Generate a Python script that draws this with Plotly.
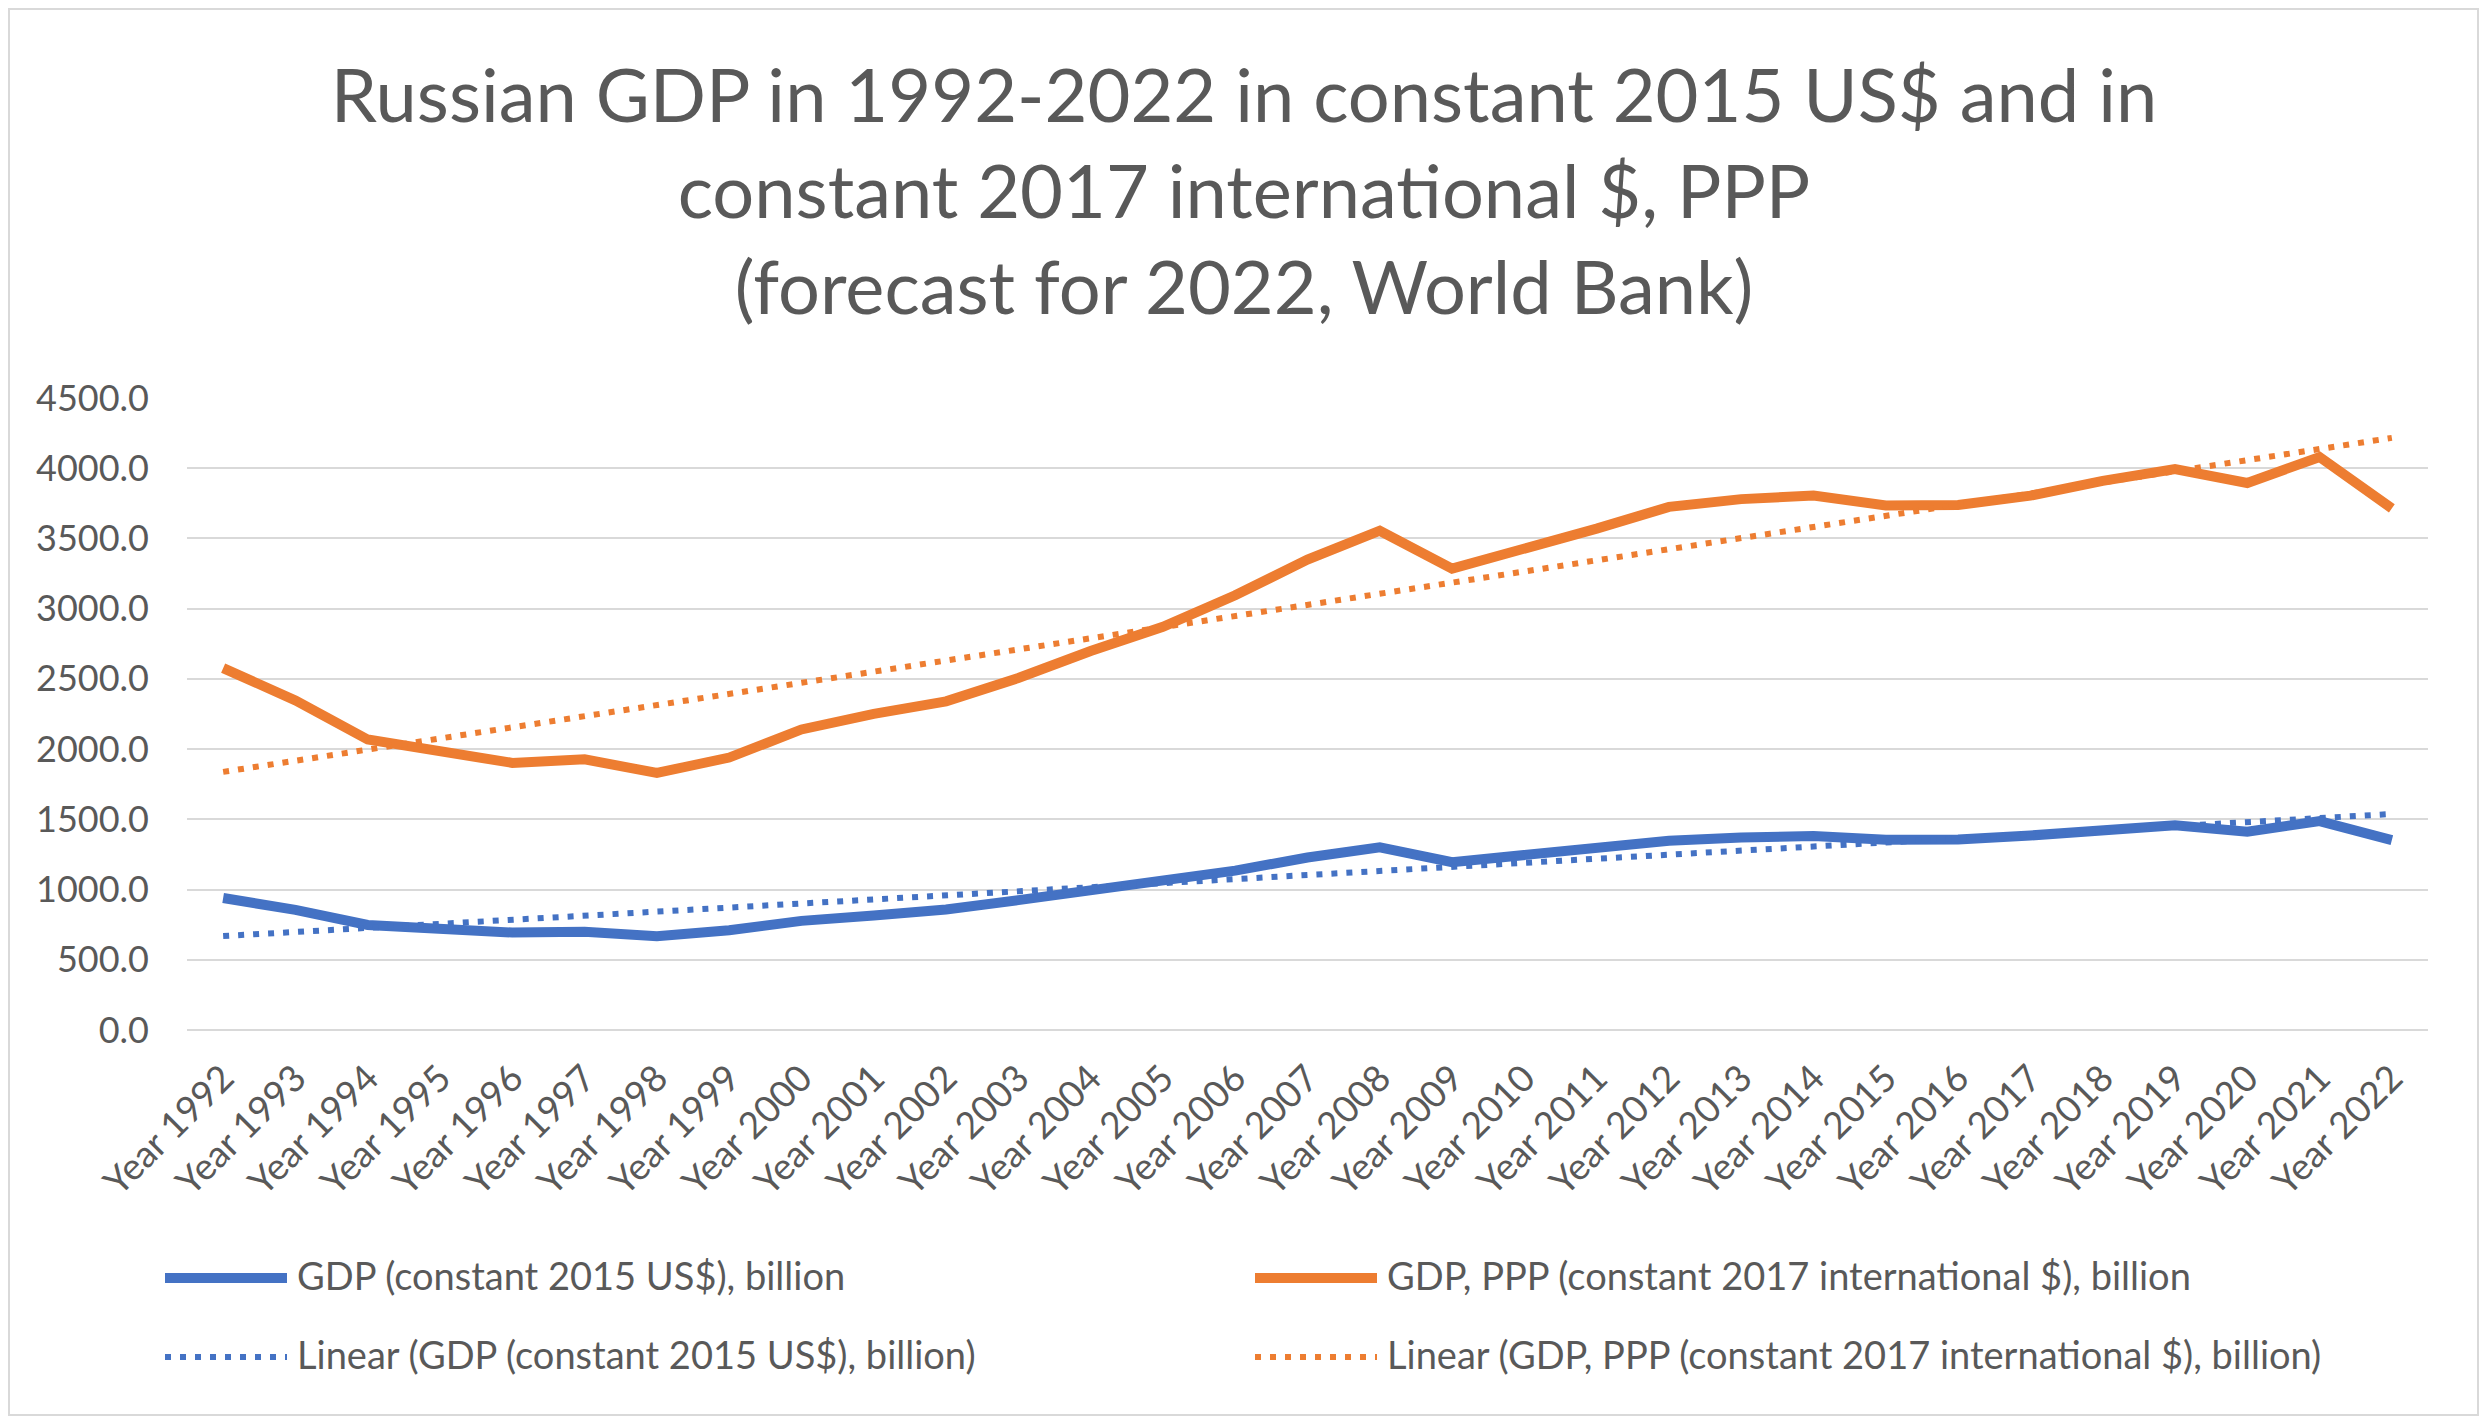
import plotly.graph_objects as go

# data (billion)
years = [f"Year {y}" for y in range(1992, 2023)]
gdp_usd = [940, 855, 748, 722, 694, 700, 667, 710, 777, 816, 858, 925, 990, 1055,
           1135, 1228, 1300, 1195, 1245, 1295, 1347, 1370, 1382, 1355, 1356, 1385,
           1422, 1458, 1412, 1487, 1352]
gdp_ppp = [2577, 2347, 2068, 1981, 1902, 1927, 1830, 1940, 2140, 2251, 2340, 2506,
           2698, 2871, 3095, 3350, 3555, 3285, 3420, 3570, 3725, 3780, 3805, 3735,
           3738, 3805, 3910, 3994, 3895, 4080, 3714]
# linear trendline end points as drawn
trend_years = ["Year 1992", "Year 2022"]
trend_usd = [669, 1538]
trend_ppp = [1838, 4216]

blue = "#4472C4"
orange = "#ED7D31"
grey = "#595959"
font = "Lato"
dot = "6px,9px"

# page has an 8px body margin, so the figure is a bit smaller than the window
W, H = 2472, 1409
L, R, T, B = 179, 52, 390, 387
PW, PH = W - L - R, H - T - B


def px(x):
    return (x - L) / PW


def py(y):
    return (H - B - y) / PH


fig = go.Figure()
fig.add_trace(go.Scatter(x=years, y=gdp_usd, mode="lines",
                         line=dict(color=blue, width=10)))
fig.add_trace(go.Scatter(x=years, y=gdp_ppp, mode="lines",
                         line=dict(color=orange, width=10)))
fig.add_trace(go.Scatter(x=trend_years, y=trend_usd, mode="lines",
                         line=dict(color=blue, width=6, dash=dot)))
fig.add_trace(go.Scatter(x=trend_years, y=trend_ppp, mode="lines",
                         line=dict(color=orange, width=6, dash=dot)))

# legend drawn by hand so the sample lines are as long as in the original
legend = [
    (157, 1270, blue, "solid", 10, "GDP (constant 2015 US$), billion"),
    (1247, 1270, orange, "solid", 10, "GDP, PPP (constant 2017 international $), billion"),
    (157, 1349, blue, dot, 6, "Linear (GDP (constant 2015 US$), billion)"),
    (1247, 1349, orange, dot, 6, "Linear (GDP, PPP (constant 2017 international $), billion)"),
]
shapes = [dict(type="rect", xref="paper", yref="paper", x0=px(1), x1=px(W - 2),
               y0=py(H - 2), y1=py(1), line=dict(color="#D9D9D9", width=2))]
annotations = []
for x, y, c, d, w, txt in legend:
    shapes.append(dict(type="line", xref="paper", yref="paper", x0=px(x), x1=px(x + 122),
                       y0=py(y), y1=py(y), line=dict(color=c, width=w, dash=d)))
    annotations.append(dict(text=txt, xref="paper", yref="paper", x=px(x + 130), y=py(y - 3),
                            xanchor="left", yanchor="middle", showarrow=False,
                            font=dict(family=font, size=38, color=grey)))

fig.update_layout(
    width=W, height=H,
    margin=dict(l=L, r=R, t=T, b=B),
    paper_bgcolor="white", plot_bgcolor="white",
    showlegend=False,
    title=dict(text="Russian GDP in 1992-2022 in constant 2015 US$ and in<br>"
                    "constant 2017 international $, PPP<br>(forecast for 2022, World Bank)",
               x=0.5, xanchor="center", xref="container",
               y=1 - 114 / H, yanchor="middle", yref="container",
               font=dict(family=font, size=74, color=grey)),
    shapes=shapes, annotations=annotations,
)
fig.update_xaxes(type="category", categoryorder="array", categoryarray=years,
                 range=[-0.5, 30.5], tickangle=-45, showgrid=False, ticklabelstandoff=18,
                 showline=False, ticks="", tickfont=dict(family=font, size=37, color=grey))
fig.update_yaxes(range=[0, 4500], dtick=500, tickformat=".1f", showgrid=True,
                 gridcolor="#D9D9D9", gridwidth=2, zeroline=True, zerolinecolor="#D9D9D9",
                 zerolinewidth=2, showline=False, ticks="", ticklabelstandoff=37,
                 tickfont=dict(family=font, size=36, color=grey))

fig.write_html("out.html")
